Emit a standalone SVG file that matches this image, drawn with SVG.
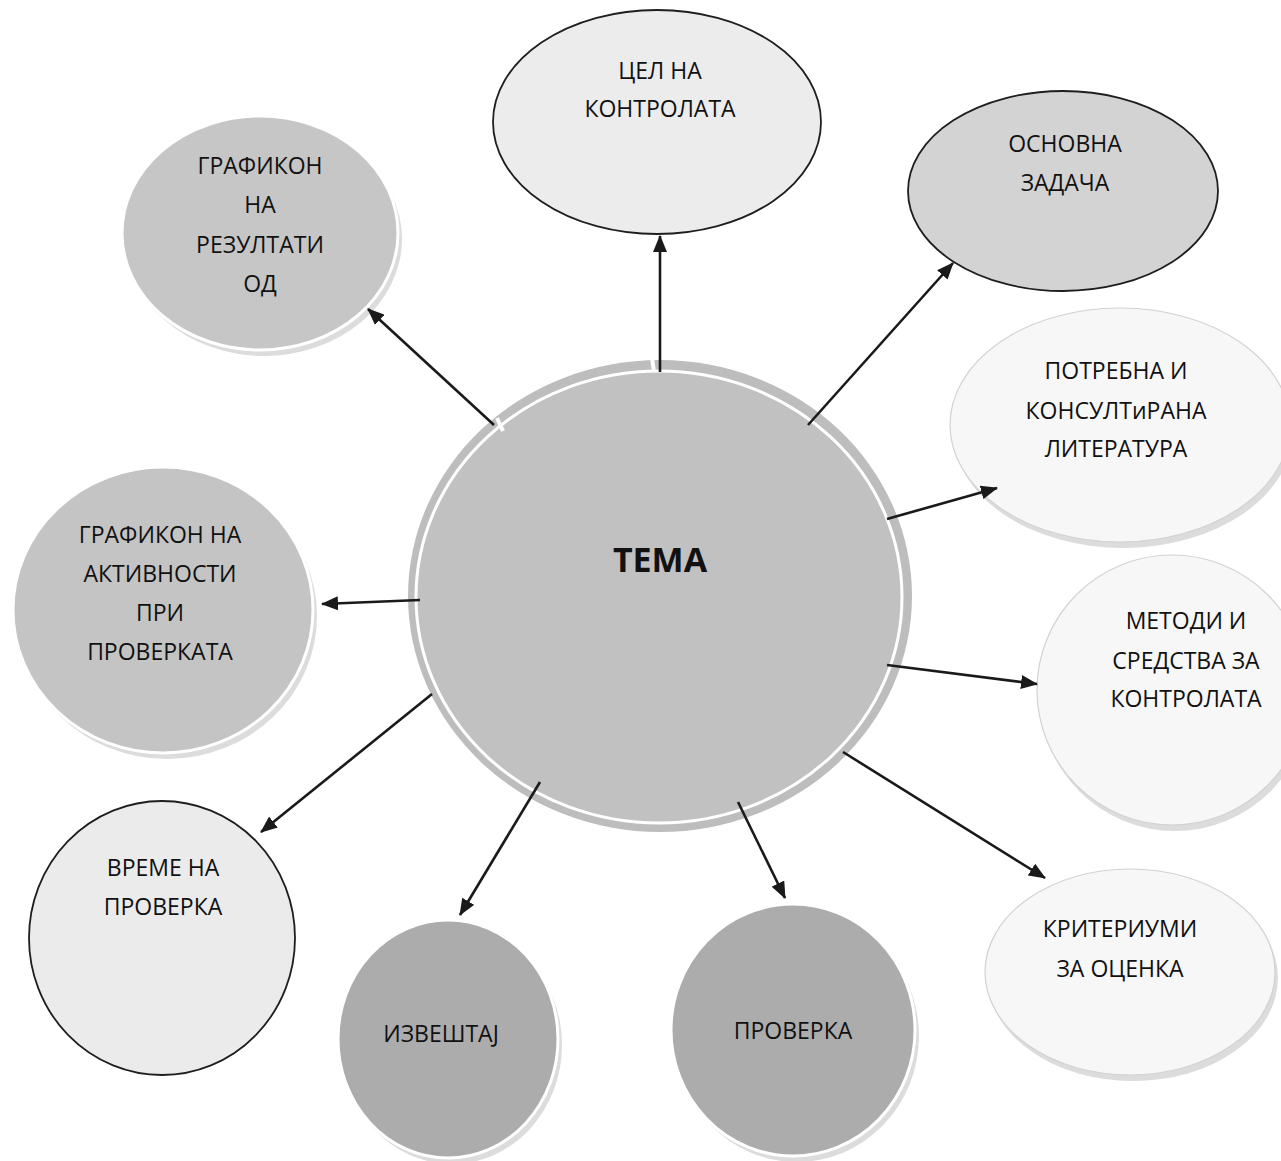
<svg xmlns="http://www.w3.org/2000/svg" width="1281" height="1161" viewBox="0 0 1281 1161">
<defs>
<marker id="ah" markerUnits="userSpaceOnUse" markerWidth="18" markerHeight="14" refX="16" refY="7" orient="auto">
<path d="M0,0 L17,7 L0,14 z" fill="#1a1a1a"/>
</marker>
</defs>
<style>
.t{font-family:"Open Sans","Noto Sans","Liberation Sans",sans-serif;font-size:23px;fill:#111;text-anchor:middle}
.tb{font-family:"Open Sans","Noto Sans","Liberation Sans",sans-serif;font-size:34px;font-weight:bold;fill:#111;text-anchor:middle}
.sh{fill:#dcdcdc}
.gray{stroke:#fff;stroke-width:3}
.outl{stroke:#1e1e1e;stroke-width:1.8}
.light{fill:#f7f7f7;stroke:#d2d2d2;stroke-width:1.2}
.conn line{stroke:#1a1a1a;stroke-width:2.6;marker-end:url(#ah)}
.gap{stroke:#fff;stroke-width:4}
</style>
<rect width="1281" height="1161" fill="#fff"/>

<g id="node-tema">
<ellipse cx="660" cy="596" rx="252" ry="236" fill="#bdbdbd"/>
<ellipse cx="659" cy="597" rx="243" ry="226" fill="#c1c1c1" stroke="#fff" stroke-width="3"/>
<line class="gap" x1="652" y1="358" x2="654" y2="372"/>
<line class="gap" x1="497" y1="418" x2="503" y2="431"/>
<text class="tb" x="660" y="572">ТЕМА</text>
</g>

<g id="node-cel">
<ellipse cx="657" cy="122" rx="164" ry="112" fill="#ececec" class="outl"/>
<text class="t" x="660" y="79">ЦЕЛ НА</text>
<text class="t" x="660" y="117">КОНТРОЛАТА</text>
</g>

<g id="node-osnovna">
<ellipse cx="1063" cy="191" rx="155" ry="100" fill="#d3d3d3" class="outl"/>
<text class="t" x="1065" y="152">ОСНОВНА</text>
<text class="t" x="1065" y="191">ЗАДАЧА</text>
</g>

<g id="node-rezultati">
<ellipse class="sh" cx="264" cy="239" rx="138" ry="117"/>
<ellipse cx="260" cy="233" rx="138" ry="117" fill="#c6c6c6" class="gray"/>
<text class="t" x="260" y="174">ГРАФИКОН</text>
<text class="t" x="260" y="213">НА</text>
<text class="t" x="260" y="253">РЕЗУЛТАТИ</text>
<text class="t" x="260" y="292">ОД</text>
</g>

<g id="node-literatura">
<ellipse class="sh" cx="1123" cy="431" rx="170" ry="117"/>
<ellipse cx="1120" cy="425" rx="170" ry="117" class="light"/>
<text class="t" x="1116" y="379">ПОТРЕБНА И</text>
<text class="t" x="1116" y="419">КОНСУЛТиРАНА</text>
<text class="t" x="1116" y="457">ЛИТЕРАТУРА</text>
</g>

<g id="node-aktivnosti">
<ellipse class="sh" cx="167" cy="616" rx="150" ry="143"/>
<ellipse cx="163" cy="610" rx="150" ry="143" fill="#c4c4c4" class="gray"/>
<text class="t" x="160" y="543">ГРАФИКОН НА</text>
<text class="t" x="160" y="582">АКТИВНОСТИ</text>
<text class="t" x="160" y="621">ПРИ</text>
<text class="t" x="160" y="660">ПРОВЕРКАТА</text>
</g>

<g id="node-metodi">
<ellipse class="sh" cx="1175" cy="696" rx="135" ry="135"/>
<ellipse cx="1172" cy="690" rx="135" ry="135" class="light"/>
<text class="t" x="1186" y="629">МЕТОДИ И</text>
<text class="t" x="1186" y="669">СРЕДСТВА ЗА</text>
<text class="t" x="1186" y="707">КОНТРОЛАТА</text>
</g>

<g id="node-vreme">
<ellipse cx="162" cy="938" rx="133" ry="137" fill="#ebebeb" class="outl"/>
<text class="t" x="163" y="876">ВРЕМЕ НА</text>
<text class="t" x="163" y="915">ПРОВЕРКА</text>
</g>

<g id="node-kriteriumi">
<ellipse class="sh" cx="1133" cy="978" rx="145" ry="103"/>
<ellipse cx="1130" cy="972" rx="145" ry="103" class="light"/>
<text class="t" x="1120" y="937">КРИТЕРИУМИ</text>
<text class="t" x="1120" y="977">ЗА ОЦЕНКА</text>
</g>

<g id="node-izvestaj">
<ellipse class="sh" cx="452" cy="1045" rx="110" ry="119"/>
<ellipse cx="448" cy="1039" rx="110" ry="119" fill="#acacac" class="gray"/>
<text class="t" x="441" y="1042">ИЗВЕШТАЈ</text>
</g>

<g id="node-proverka">
<ellipse class="sh" cx="797" cy="1036" rx="122" ry="126"/>
<ellipse cx="793" cy="1030" rx="122" ry="126" fill="#acacac" class="gray"/>
<text class="t" x="793" y="1039">ПРОВЕРКА</text>
</g>

<g id="connectors" class="conn">
<line x1="660" y1="372" x2="660" y2="236"/>
<line x1="808" y1="425" x2="953" y2="263"/>
<line x1="887" y1="519" x2="997" y2="488"/>
<line x1="887" y1="665" x2="1037" y2="684"/>
<line x1="843" y1="752" x2="1045" y2="878"/>
<line x1="738" y1="802" x2="785" y2="898"/>
<line x1="540" y1="782" x2="460" y2="915"/>
<line x1="432" y1="694" x2="261" y2="832"/>
<line x1="420" y1="600" x2="322" y2="604"/>
<line x1="494" y1="425" x2="368" y2="309"/>
</g>
</svg>
